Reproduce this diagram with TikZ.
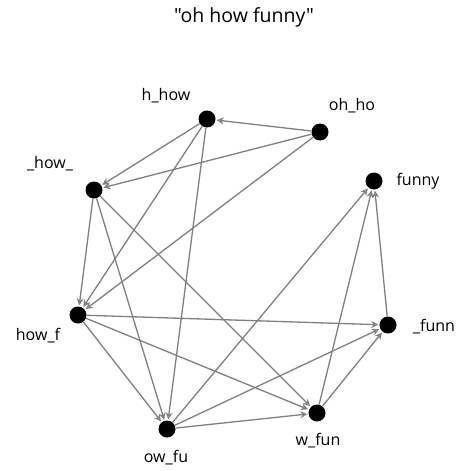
\documentclass[tikz,border=0pt]{standalone}
\usepackage{fontspec}
\setmainfont{Open Sans}[Ligatures=TeXOff]
\usetikzlibrary{arrows.meta}
\begin{document}
\begin{tikzpicture}[x=1pt,y=-1pt,
  vtx/.style={circle,fill=black,inner sep=0pt,minimum size=17pt},
  lbl/.style={font=\fontsize{16}{18}\selectfont,text=black,inner sep=0pt},
  edge/.style={draw=black!50,line width=1.3pt,-{Stealth[open,length=7pt,width=7pt,line width=1.1pt]},shorten >=1pt}]
\useasboundingbox (0,0) rectangle (463,471);
\node[lbl,font=\fontsize{19.5}{22}\selectfont] (title) at (244,17) {"oh how funny"};
\node[vtx] (hhow) at (207,119) {};
\node[vtx] (ohho) at (320,132) {};
\node[vtx] (funny) at (374,181) {};
\node[vtx] (how) at (94,190) {};
\node[vtx] (howf) at (78,315) {};
\node[vtx] (funn) at (388,325) {};
\node[vtx] (wfun) at (317,413) {};
\node[vtx] (owfu) at (167,429) {};
\node[lbl] at (166,96) {h\_how};
\node[lbl] at (352,106) {oh\_ho};
\node[lbl] at (418,181) {funny};
\node[lbl] at (50,164) {\_how\_};
\node[lbl] at (38,336) {how\_f};
\node[lbl] at (434,327) {\_funn};
\node[lbl] at (318,441) {w\_fun};
\node[lbl] at (166,458) {ow\_fu};
\draw[edge] (ohho) -- (hhow);
\draw[edge] (ohho) -- (how);
\draw[edge] (ohho) -- (howf);
\draw[edge] (hhow) -- (how);
\draw[edge] (hhow) -- (howf);
\draw[edge] (hhow) -- (owfu);
\draw[edge] (how) -- (howf);
\draw[edge] (how) -- (owfu);
\draw[edge] (how) -- (wfun);
\draw[edge] (howf) -- (funn);
\draw[edge] (howf) -- (wfun);
\draw[edge] (howf) -- (owfu);
\draw[edge] (owfu) -- (wfun);
\draw[edge] (owfu) -- (funn);
\draw[edge] (owfu) -- (funny);
\draw[edge] (wfun) -- (funny);
\draw[edge] (wfun) -- (funn);
\draw[edge] (funn) -- (funny);
\end{tikzpicture}
\end{document}
